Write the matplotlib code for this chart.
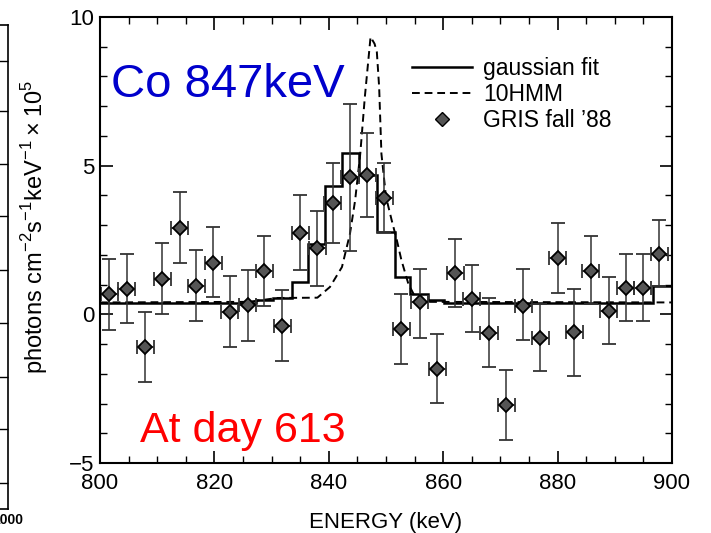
import matplotlib
matplotlib.use("Agg")
import matplotlib.pyplot as plt
from matplotlib.lines import Line2D
from matplotlib.ticker import MultipleLocator

plt.rcParams['font.family'] = ['Liberation Sans', 'DejaVu Sans']
plt.rcParams['mathtext.fontset'] = 'custom'
plt.rcParams['mathtext.rm'] = 'Liberation Sans'

# GRIS fall '88 data points
energy = [801.6, 804.7, 807.9, 810.9, 813.9, 816.8, 819.8, 822.7, 825.8, 828.7,
          831.9, 835.0, 838.0, 840.7, 843.7, 846.7, 849.7, 852.7, 855.9, 859.0,
          862.1, 865.0, 868.0, 871.0, 874.0, 877.0, 880.0, 882.9, 885.8, 888.9,
          891.9, 894.9, 897.8]
flux = [0.70, 0.86, -1.10, 1.20, 2.90, 0.94, 1.74, 0.08, 0.30, 1.46,
        -0.39, 2.75, 2.23, 3.76, 4.62, 4.70, 3.91, -0.48, 0.40, -1.83,
        1.40, 0.50, -0.62, -3.06, 0.28, -0.80, 1.89, -0.59, 1.46, 0.11,
        0.89, 0.89, 2.04]
err_hi = [1.17, 1.17, 1.17, 1.19, 1.20, 1.21, 1.20, 1.21, 1.18, 1.19,
          1.22, 1.26, 1.23, 1.34, 2.47, 1.41, 1.19, 1.15, 1.14, 1.18,
          1.15, 1.15, 1.18, 1.18, 1.23, 1.14, 1.19, 1.43, 1.17, 1.16,
          1.13, 1.13, 1.13]
err_lo = [1.22, 1.16, 1.18, 1.18, 1.16, 1.18, 1.17, 1.18, 1.19, 1.18,
          1.17, 1.27, 1.28, 1.35, 2.49, 1.43, 1.14, 1.20, 1.18, 1.15,
          1.17, 1.09, 1.15, 1.18, 1.15, 1.12, 1.17, 1.50, 1.10, 1.10,
          1.13, 1.13, 1.10]
bin_half = [1.5] * len(energy)

# gaussian fit (histogram steps)
fit_edges = [800.0, 827.2, 830.3, 833.5, 836.3, 839.3, 842.3, 845.3, 848.4,
             851.6, 854.2, 857.3, 860.2, 896.7, 900.0]
fit_vals = [0.38, 0.47, 0.55, 1.09, 2.37, 4.32, 5.44, 4.68, 2.77,
            1.26, 0.68, 0.47, 0.38, 0.94]

# 10HMM model curve
hmm_x = [800.0, 826.0, 831.0, 838.0, 840.2, 842.3, 843.7, 844.6, 845.5, 846.3,
         847.3, 848.0, 848.4, 848.8, 849.2, 850.0, 851.0, 851.9, 852.7, 853.9,
         855.1, 857.0, 900.0]
hmm_y = [0.40, 0.42, 0.55, 0.56, 0.92, 1.59, 2.71, 3.83, 5.40, 7.31,
         9.33, 9.10, 8.82, 7.65, 5.40, 3.95, 3.16, 2.49, 1.82, 1.03,
         0.58, 0.42, 0.40]

x_ticks = [800, 820, 840, 860, 880, 900]
y_ticks = [-5, 0, 5, 10]

W, H = 711, 533
fig = plt.figure(figsize=(W / 100, H / 100), dpi=100)

# partial neighbouring panel at the left edge
ax0 = fig.add_axes([-300 / W, 1 - 509 / H, 308 / W, (509 - 25) / H])
ax0.set_xlim(0, 1)
ax0.set_ylim(509, 25)
ax0.spines['left'].set_visible(False)
for s in ['right', 'top', 'bottom']:
    ax0.spines[s].set_linewidth(1.2)
ax0.set_xticks([])
ax0.yaxis.tick_right()
ax0.set_yticks([61, 111, 164, 216, 270, 323, 377, 429, 483])
ax0.tick_params(axis='y', direction='in', length=8, width=1.0, labelright=False)
fig.text(8 / W, 1 - 520 / H, '1000', ha='center', va='center',
         fontsize=10, fontweight='bold')

ax = fig.add_axes([100 / W, 1 - 463 / H, 572 / W, 446 / H])

ax.stairs(fit_vals, fit_edges, color='black', lw=1.8, baseline=None)
ax.plot(hmm_x, hmm_y, color='black', lw=1.4, ls=(0, (4, 2.5)))
ax.errorbar(energy, flux, yerr=[err_lo, err_hi], xerr=bin_half, fmt='D',
            color='#333333', ecolor='#333333', elinewidth=1.1, capsize=5,
            capthick=1.1, markersize=7.5, markerfacecolor='#555555',
            markeredgecolor='black', markeredgewidth=1.3)

ax.set_xlim(800, 900)
ax.set_ylim(-5, 10)
ax.set_xticks(x_ticks)
ax.set_yticks(y_ticks)
ax.set_yticklabels(['\u22125', '0', '5', '10'])
ax.xaxis.set_minor_locator(MultipleLocator(5))
ax.yaxis.set_minor_locator(MultipleLocator(1))
ax.tick_params(which='both', direction='in', top=True, right=True)
ax.tick_params(which='major', length=9, width=1.2, labelsize=16, pad=4)
ax.tick_params(axis='x', which='major', pad=7)
ax.tick_params(which='minor', length=5, width=1.0)
for s in ax.spines.values():
    s.set_linewidth(1.5)

ax.set_xlabel('ENERGY (keV)', fontsize=16, labelpad=13)
ax.set_ylabel(r'photons cm$^{-2}$s$^{-1}$keV$^{-1}\times 10^{5}$', fontsize=17)
ax.yaxis.set_label_coords(-0.087, 0.53)

handles = [Line2D([], [], color='black', lw=1.8),
           Line2D([], [], color='black', lw=1.4, ls=(0, (4, 2.5))),
           Line2D([], [], color='#555555', marker='D', ls='none', markersize=7,
                  markeredgecolor='black')]
ax.legend(handles, ['gaussian fit', '10HMM', "GRIS fall \u201988"],
          loc='upper left', bbox_to_anchor=(0.53, 0.93), frameon=False,
          fontsize=16.5, handlelength=2.6, handletextpad=0.5, labelspacing=0.12,
          borderaxespad=0.0)

ax.text(802, 7.3, 'Co 847keV', color='#0000CC', fontsize=34, ha='left',
        va='baseline')
ax.text(807, -4.3, 'At day 613', color='#FF0000', fontsize=31, ha='left',
        va='baseline')

fig.savefig('out.png', dpi=100)
